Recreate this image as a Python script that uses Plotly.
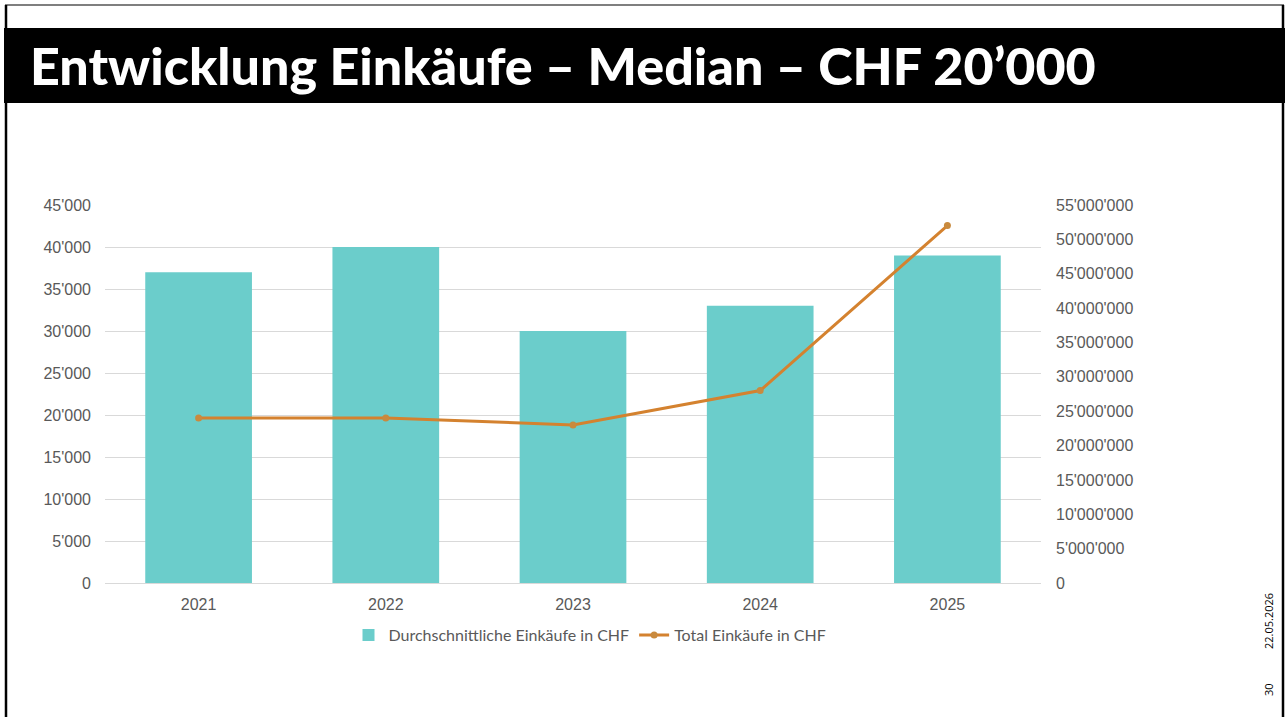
import plotly.graph_objects as go

W, H = 1285, 717

years = ["2021", "2022", "2023", "2024", "2025"]
avg_purchase = [37000, 40000, 30000, 33000, 39000]
total_purchase = [24000000, 24000000, 23000000, 28000000, 52000000]

bar_name = "Durchschnittliche Einkäufe in CHF"
line_name = "Total Einkäufe in CHF"
title_text = "Entwicklung Einkäufe – Median – CHF 20’000"
date_text = "22.05.2026"
page_text = "30"

def px_x(x):
    return x / W

def px_y(y):
    return 1 - y / H

fig = go.Figure()
fig.add_trace(go.Bar(
    x=years, y=avg_purchase, name=bar_name,
    marker=dict(color="#6BCDCB", line=dict(width=0)),
    yaxis="y", width=0.57,
))
fig.add_trace(go.Scatter(
    x=years, y=total_purchase, name=line_name, yaxis="y2",
    mode="lines+markers",
    line=dict(color="#D4822F", width=3),
    marker=dict(color="#C98A3E", size=7),
))

tick_font = dict(family="Liberation Sans, Arial, sans-serif", size=16, color="#595959")

fig.update_layout(
    width=W, height=H,
    margin=dict(l=0, r=0, t=0, b=0, autoexpand=False),
    paper_bgcolor="white", plot_bgcolor="white",
    separators=".'",
    showlegend=True,
    xaxis=dict(
        domain=[px_x(105), px_x(1041)], automargin=False,
        showgrid=False, zeroline=False, showline=False,
        tickfont=tick_font, ticks="", ticklabelstandoff=10,
    ),
    yaxis=dict(
        domain=[px_y(583), px_y(205)], automargin=False,
        range=[0, 45000], dtick=5000, tickformat=",d",
        showgrid=True, gridcolor="#D9D9D9", gridwidth=1,
        zeroline=True, zerolinecolor="#D9D9D9", zerolinewidth=1,
        showline=False, tickfont=tick_font, ticks="", ticklabelstandoff=13,
    ),
    yaxis2=dict(
        overlaying="y", side="right", automargin=False,
        range=[0, 55000000], dtick=5000000, tickformat=",d",
        showgrid=False, zeroline=False, showline=False,
        tickfont=tick_font, ticks="", ticklabelstandoff=14,
    ),
    legend=dict(
        orientation="h", x=px_x(590), xanchor="center",
        y=px_y(635), yanchor="middle",
        font=dict(family="Lato, sans-serif", size=16, color="#595959"),
        itemwidth=30, tracegroupgap=0,
    ),
    shapes=[
        dict(type="line", xref="paper", yref="paper", x0=px_x(5), x1=px_x(1284), y0=px_y(5), y1=px_y(5),
             line=dict(color="#555555", width=1.5)),
        dict(type="line", xref="paper", yref="paper", x0=px_x(6), x1=px_x(6), y0=px_y(5), y1=0,
             line=dict(color="#000000", width=2.5)),
        dict(type="line", xref="paper", yref="paper", x0=px_x(1283), x1=px_x(1283), y0=px_y(5), y1=0,
             line=dict(color="#000000", width=2.5)),
        dict(type="rect", xref="paper", yref="paper", x0=px_x(4), x1=1, y0=px_y(103), y1=px_y(28),
             fillcolor="#000000", line=dict(width=0), layer="above"),
    ],
    annotations=[
        dict(text=title_text, xref="paper", yref="paper", x=px_x(28), y=px_y(65),
             xanchor="left", yanchor="middle", showarrow=False,
             font=dict(family="Lato, sans-serif", size=52, color="white", weight=900)),
        dict(text=date_text, xref="paper", yref="paper", x=px_x(1268), y=px_y(621),
             xanchor="center", yanchor="middle", showarrow=False, textangle=-90,
             font=dict(family="Open Sans, sans-serif", size=11, color="#000000")),
        dict(text=page_text, xref="paper", yref="paper", x=px_x(1268), y=px_y(690),
             xanchor="center", yanchor="middle", showarrow=False, textangle=-90,
             font=dict(family="Open Sans, sans-serif", size=11, color="#000000")),
    ],
)

fig.write_html("out.html", config={"displayModeBar": False},
               post_script="document.body.style.margin='0';document.body.style.overflow='hidden';")
